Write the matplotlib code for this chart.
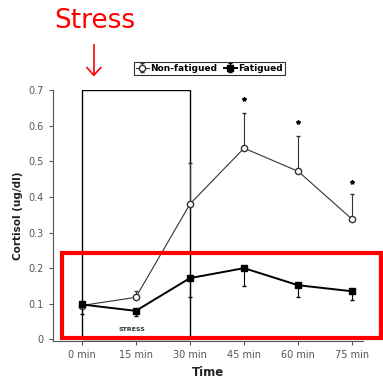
import matplotlib.pyplot as plt
from matplotlib.patches import Rectangle

times = [0, 15, 30, 45, 60, 75]
tick_labels = ["0 min", "15 min", "30 min", "45 min", "60 min", "75 min"]

non_fatigued = [0.095, 0.118, 0.380, 0.537, 0.472, 0.337]
non_fatigued_err = [0.0, 0.018, 0.115, 0.100, 0.099, 0.071]

fatigued = [0.098, 0.080, 0.172, 0.200, 0.152, 0.135]
fatigued_err = [0.028, 0.015, 0.054, 0.050, 0.033, 0.025]

star_x = [45, 60, 75]
star_y = [0.675, 0.610, 0.441]

fig = plt.figure(figsize=(3.83, 3.82), dpi=100)
ax = fig.add_axes([0.138, 0.107, 0.81, 0.657])

grey = "#555555"

# non-fatigued: upper error bars only
ax.errorbar(times, non_fatigued, yerr=[[0] * 6, non_fatigued_err], fmt='-o', color='#333333',
            mfc='white', mec='#333333', ms=4.5, lw=0.8, elinewidth=0.8, capsize=1.5,
            label="Non-fatigued", zorder=3)
# fatigued: lower error bars only
ax.errorbar(times, fatigued, yerr=[fatigued_err, [0] * 6], fmt='-s', color='black',
            ms=5, lw=1.4, elinewidth=0.8, capsize=1.5, label="Fatigued", zorder=4)

ax.plot(star_x, star_y, linestyle='none', marker='*', color='black', ms=3)

# stress window
ax.add_patch(Rectangle((0, 0), 30, 0.7, fill=False, ec='black', lw=1.0, zorder=2))
ax.text(14, 0.028, "STRESS", fontsize=4.5, fontweight='bold', ha='center', va='center',
        color='#333333')

ax.set_xlim(-8, 78)
ax.set_ylim(-0.005, 0.7)
ax.set_xticks(times)
ax.set_xticklabels(tick_labels)
ax.set_yticks([0, 0.1, 0.2, 0.3, 0.4, 0.5, 0.6, 0.7])
ax.set_yticklabels(["0", "0.1", "0.2", "0.3", "0.4", "0.5", "0.6", "0.7"])
ax.tick_params(labelsize=7, colors=grey, length=3, width=0.8)
for s in ["top", "right"]:
    ax.spines[s].set_visible(False)
for s in ["left", "bottom"]:
    ax.spines[s].set_color(grey)
    ax.spines[s].set_linewidth(0.8)

ax.set_xlabel("Time", fontsize=8.5, fontweight='bold', color='#222222')
ax.set_ylabel("Cortisol (ug/dl)", fontsize=7.5, fontweight='bold', color='#222222')

leg = ax.legend(loc='lower center', bbox_to_anchor=(0.505, 1.06), ncol=2, fontsize=6.5,
                frameon=True, fancybox=False, edgecolor='black', handlelength=1.4,
                handletextpad=0.2, columnspacing=0.7, borderpad=0.25, borderaxespad=0)
for t in leg.get_texts():
    t.set_fontweight('bold')
leg.get_frame().set_linewidth(0.8)

# red highlight box
ax.add_patch(Rectangle((-5.6, 0.004), 88.5, 0.239, fill=False, ec='red', lw=3,
                       clip_on=False, zorder=5))

fig.text(0.248, 0.945, "Stress", color='red', fontsize=19, ha='center', va='center')
fig.add_artist(plt.Line2D([0.245, 0.245], [0.882, 0.805], color='red', lw=1.2))
fig.add_artist(plt.Line2D([0.227, 0.245, 0.263], [0.823, 0.803, 0.823], color='red', lw=1.2))

plt.savefig("out.png", dpi=100)
